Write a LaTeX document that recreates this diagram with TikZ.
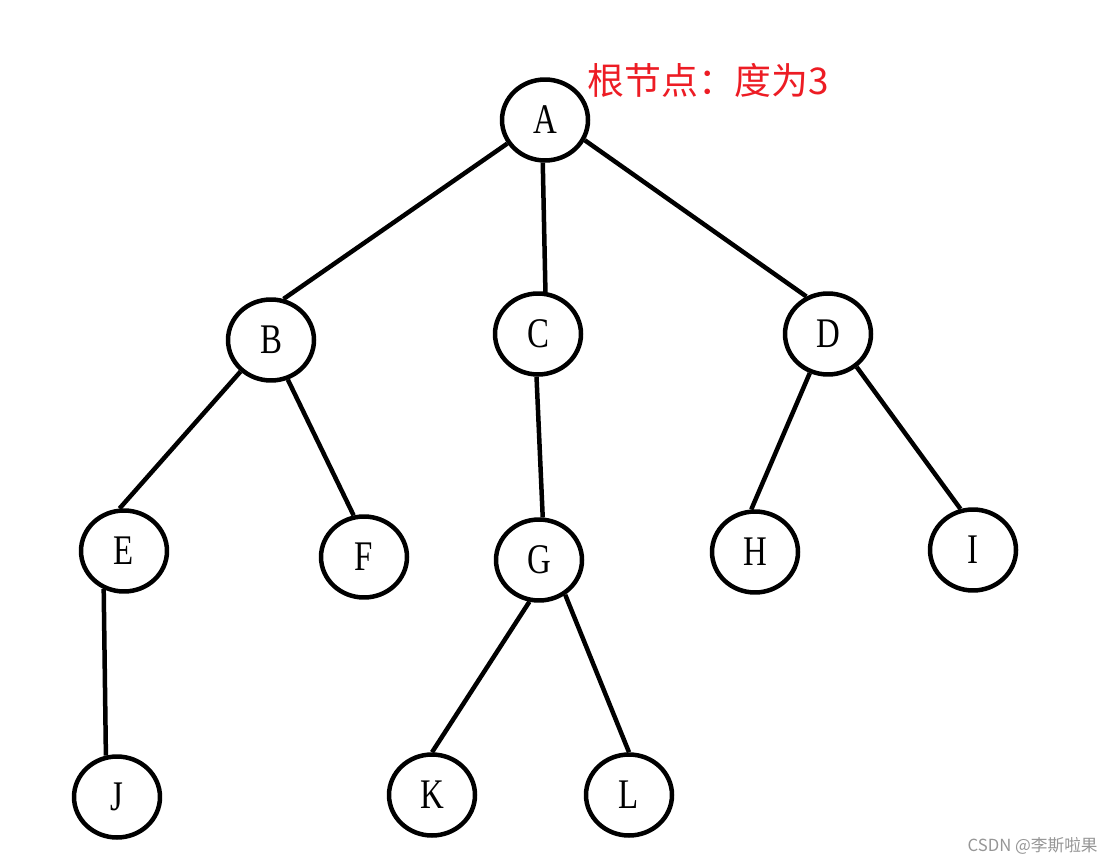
\documentclass[tikz,border=0pt]{standalone}
\usepackage{fontspec}
\setmainfont{Liberation Serif}
\newfontfamily\letterfont[FakeStretch=0.78]{Liberation Serif}
\newfontfamily\cjkfont{Noto Sans CJK SC}
\usetikzlibrary{shapes.geometric}
\definecolor{notered}{RGB}{237,28,36}
\definecolor{markgray}{RGB}{150,150,150}

\begin{document}
\begin{tikzpicture}[x=0.02cm, y=-0.02cm,
  vtx/.style={draw, ellipse, line width=0.09cm, minimum width=1.72cm, minimum height=1.62cm, inner sep=0pt, font={\letterfont\fontsize{24}{24}\selectfont}},
  link/.style={line width=0.09cm}]
\useasboundingbox (0,0) rectangle (1114,864);
% tree nodes
\node[vtx] (A) at (545,120) {A};
\node[vtx] (B) at (271,340) {B};
\node[vtx] (C) at (538,334) {C};
\node[vtx] (D) at (828,334) {D};
\node[vtx] (E) at (124,551) {E};
\node[vtx] (F) at (364,557) {F};
\node[vtx] (G) at (539,560) {G};
\node[vtx] (H) at (755,552) {H};
\node[vtx] (I) at (973,550) {I};
\node[vtx] (J) at (117,797) {J};
\node[vtx] (K) at (432,795) {K};
\node[vtx] (L) at (629,795) {L};
% labels
\node[anchor=west, text=notered, inner sep=0pt, font={\cjkfont\fontsize{21}{22}\selectfont}] (note) at (587,80) {根节点：度为3};
\node[anchor=east, text=markgray, inner sep=0pt, font={\cjkfont\fontsize{9.5}{10}\selectfont}] (mark) at (1098,846) {CSDN @李斯啦果};
% edges
\draw[link] (A.212) -- (B.73); \draw[link] (A.267) -- (C.80); \draw[link] (A.333) -- (D.120);
\draw[link] (B.226) -- (E.96); \draw[link] (B.293) -- (F.104);
\draw[link] (C.268) -- (G.85);
\draw[link] (D.245) -- (H.95); \draw[link] (D.311) -- (I.107);
\draw[link] (E.242) -- (J.105);
\draw[link] (G.257) -- (K.90); \draw[link] (G.307) -- (L.90);
\end{tikzpicture}
\end{document}
